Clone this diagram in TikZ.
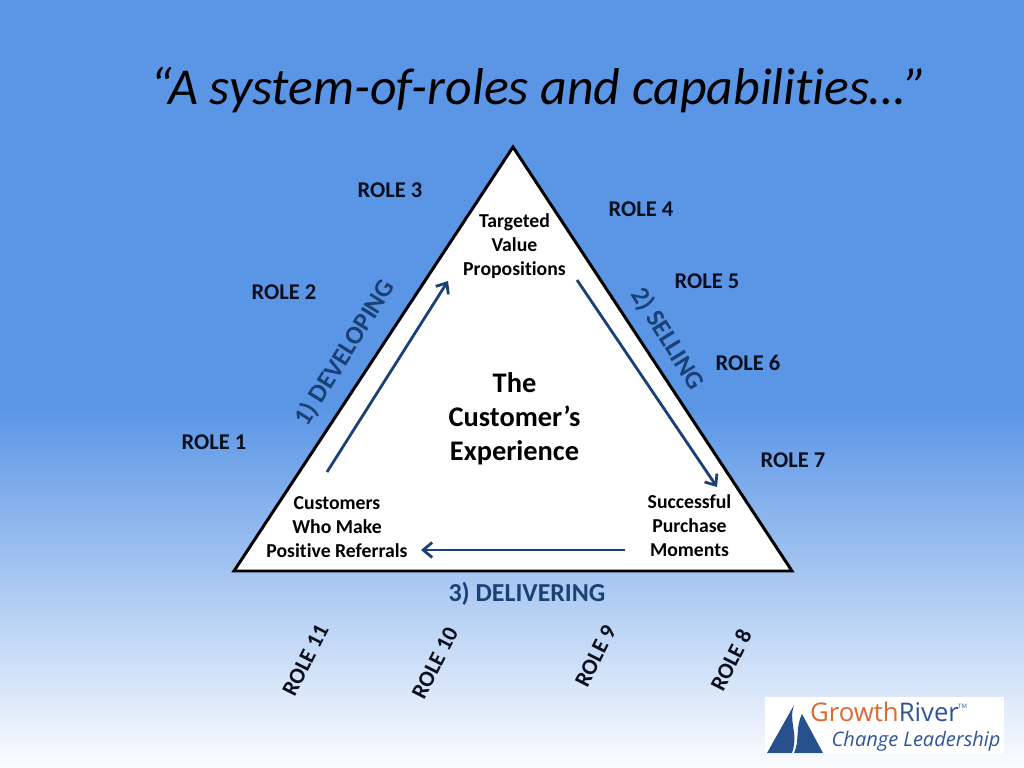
\documentclass[tikz,border=0pt]{standalone}
\usepackage{fontspec}
\setmainfont[RawFeature={-liga;-clig;-dlig}]{Carlito}
\newfontfamily\logofont{Open Sans}
\usetikzlibrary{arrows.meta}
\definecolor{bgblue}{HTML}{5B96E6}
\definecolor{pale}{HTML}{FCFDFF}
\definecolor{deepblue}{HTML}{1A4175}
\definecolor{roleink}{HTML}{0A0F1E}
\definecolor{logoorange}{HTML}{E0682C}
\definecolor{logoblue}{HTML}{2F5597}
\definecolor{sailblue}{HTML}{27508F}
\tikzset{
  rolelabel/.style={font=\bfseries\fontsize{22.6}{26}\selectfont,text=roleink,inner sep=0pt},
  roleup/.style={rolelabel,rotate=63},
  boxtext/.style={font=\bfseries\fontsize{19.8}{24}\selectfont,text=black,align=center,inner sep=0pt},
  phase/.style={font=\bfseries\fontsize{26}{28}\selectfont,text=deepblue,inner sep=0pt},
  flow/.style={draw=deepblue,line width=2.8pt,-{Straight Barb[length=9pt,width=15pt,line width=2.8pt]}},
}
\begin{document}
\begin{tikzpicture}[x=1bp,y=-1bp]
\useasboundingbox (0,0) rectangle (1024,768);
\fill[bgblue] (0,0) rectangle (1024,408);
\shade[top color=bgblue,bottom color=pale] (0,408) rectangle (1024,768);
\node[font=\itshape\fontsize{52}{60}\selectfont,text=black,inner sep=0pt] (title) at (539,90) {“A system-of-roles and capabilities…”};
\coordinate (apex) at (513,147);
\coordinate (left) at (234,571);
\coordinate (right) at (792,571);
\draw[fill=white,draw=black,line width=3pt,line join=miter] (apex) -- (right) -- (left) -- cycle;
\node[boxtext] (tvp) at (514.5,246) {Targeted\\Value\\Propositions};
\node[boxtext] (cust) at (337,526.8) {Customers\\Who Make\\Positive Referrals};
\node[boxtext] (spm) at (689.5,526) {Successful\\Purchase\\Moments};
\node[font=\bfseries\fontsize{28.5}{34}\selectfont,align=center,inner sep=0pt] (exp) at (514.5,419) {The\\Customer’s\\Experience};
\coordinate (a1s) at (327,472); \coordinate (a1e) at (448,281);
\coordinate (a2s) at (577,280); \coordinate (a2e) at (717,487);
\coordinate (a3s) at (625,550); \coordinate (a3e) at (421,550);
\draw[flow] (a1s) -- (a1e);
\draw[flow] (a2s) -- (a2e);
\draw[flow] (a3s) -- (a3e);
\node[phase,rotate=-58] (sell) at (667.5,339) {2) SELLING};
\node[phase,rotate=58] (dev) at (345,353) {1) DEVELOPING};
\node[phase] (del) at (527,594) {3) DELIVERING};
\node[rolelabel] (r1) at (214,442.5) {ROLE 1};
\node[rolelabel] (r2) at (284,292.5) {ROLE 2};
\node[rolelabel] (r3) at (390,190.5) {ROLE 3};
\node[rolelabel] (r4) at (641,209.5) {ROLE 4};
\node[rolelabel] (r5) at (707,281.5) {ROLE 5};
\node[rolelabel] (r6) at (748,363) {ROLE 6};
\node[rolelabel] (r7) at (793,460) {ROLE 7};
\node[roleup] (r8) at (731,660) {ROLE 8};
\node[roleup] (r9) at (595.5,656) {ROLE 9};
\node[roleup] (r10) at (435,663) {ROLE 10};
\node[roleup] (r11) at (305.5,660) {ROLE 11};
% logo
\fill[white] (765,697) rectangle (1004,754);
\fill[sailblue] (767,753) -- (794,705) .. controls (788,722) and (799,733) .. (792,753) -- cycle;
\fill[sailblue] (794,753) .. controls (800,740) and (795,728) .. (802,714) -- (823,753) -- cycle;
\node[font=\logofont\fontsize{25.8}{28}\selectfont,inner sep=0pt,anchor=base west] (lg) at (810,721) {\textcolor{logoorange}{Growth}\textcolor{logoblue}{River}};
\node[font=\logofont\fontsize{6}{7}\selectfont,text=logoblue,inner sep=0pt,anchor=base west] (tm) at (958,708) {TM};
\node[font=\logofont\itshape\fontsize{20.1}{22}\selectfont,text=logoblue,inner sep=0pt,anchor=base west] (cl) at (831.5,746) {Change Leadership};
\end{tikzpicture}
\end{document}
